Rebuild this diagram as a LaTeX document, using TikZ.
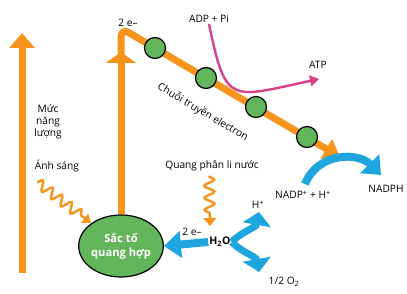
\documentclass[tikz,border=0pt]{standalone}
\usepackage{fontspec}
\setmainfont{Open Sans}
\usepackage{xcolor}
\definecolor{EnergyOrange}{HTML}{F7941E}
\definecolor{WaterBlue}{HTML}{1FA5DE}
\definecolor{LeafGreen}{HTML}{62B55A}
\definecolor{AtpPink}{HTML}{D9418A}
\usepackage{tikz}
\usetikzlibrary{arrows.meta,positioning,shapes.geometric,decorations.pathmorphing}

\begin{document}
\begin{tikzpicture}[x=1pt,y=1pt,lbl/.style={font=\fontsize{10.2}{12}\selectfont,align=center,inner sep=1pt},pig/.style={ellipse,draw=black,line width=1.2pt,fill=LeafGreen,minimum width=84pt,minimum height=62pt,inner sep=0pt,text=white,align=center,font=\fontsize{11.2}{14}\selectfont\bfseries},carrier/.style={circle,draw=black,line width=1.2pt,fill=LeafGreen,minimum size=21pt,inner sep=0pt},flow/.style={draw=EnergyOrange,line width=7pt},water/.style={draw=WaterBlue,line width=8pt},photon/.style={draw=EnergyOrange,line width=2.4pt,decorate,decoration={snake,amplitude=5pt,segment length=12pt,post length=8pt}}]
\useasboundingbox (0,0) rectangle (407,294);
\node[pig] (pig) at (121,48) {Sắc tố\\quang hợp};
\node[lbl,font=\fontsize{10.5}{12}\selectfont\bfseries] (h2o) at (220,52) {H\textsubscript{2}O};
\node[lbl] (level) at (48,172) {Mức\\năng\\lượng};
\node[lbl] (light) at (57,128) {Ánh sáng};
\node[lbl] (split) at (212,128) {Quang phân li nước};
\node[lbl] (etop) at (128,271) {2 e–};
\node[lbl] (ebot) at (192,62) {2 e–};
\node[lbl,rotate=-30.5] (chain) at (203,182) {Chuỗi truyền electron};
\node[lbl] (adp) at (209,275) {ADP + Pi};
\node[lbl] (atp) at (318,229) {ATP};
\node[lbl] (nadp) at (303,99) {NADP\textsuperscript{+} + H\textsuperscript{+}};
\node[lbl] (nadph) at (386,105) {NADPH};
\node[lbl] (hplus) at (258,89) {H\textsuperscript{+}};
\node[lbl] (oxy) at (284,12) {1/2 O\textsubscript{2}};
\coordinate (lvlbot) at (22,21);\coordinate (lvltop) at (22,261);
\coordinate (midtip) at (121,242);\coordinate (midbase) at (121,230);
\coordinate (top) at (121,266);\coordinate (chainend) at (340,137);
\coordinate (atptip) at (319,215);
\coordinate (nadpin) at (305,110);\coordinate (nadpout) at (381,119);
\coordinate (hup) at (259,82);\coordinate (odown) at (259,22);
\coordinate (sun) at (37,112);\coordinate (sunhit) at (91,71);
\coordinate (split0) at (209,118);\coordinate (splithit) at (210,68);
\draw[flow,-{Triangle[width=25pt,length=15pt]}] (lvlbot)--(lvltop);
\draw[flow,-{Triangle[width=30pt,length=11pt]}] (pig.north)--(midtip);
\draw[flow,rounded corners=9pt,-{Triangle[width=22pt,length=16pt]}] (midbase)--(top)--(chainend);
\node[carrier] (c1) at (155,246) {};
\node[carrier] (c2) at (206,216) {};
\node[carrier] (c3) at (256,187) {};
\node[carrier] (c4) at (307,157) {};
\draw[draw=AtpPink,line width=2.4pt,-{Triangle[width=11pt,length=9pt]}] (adp.south) .. controls (226,188) and (230,196) .. (atptip);
\draw[water,-{Triangle[width=26pt,length=16pt]}] (nadpin) .. controls (318,142) and (358,142) .. (nadpout);
\draw[water,-{Triangle[width=26pt,length=17pt]}] (h2o.west)--(pig.east);
\draw[water,line width=7pt,-{Triangle[width=28pt,length=13pt]}] (h2o.east) to[out=45,in=-100] (hup);
\draw[water,line width=7pt,-{Triangle[width=28pt,length=13pt]}] (h2o.east) to[out=-45,in=100] (odown);
\draw[photon,-{Triangle[width=11pt,length=8pt]}] (sun)--(sunhit);
\draw[photon,-{Triangle[width=13pt,length=8pt]}] (split0)--(splithit);
\end{tikzpicture}
\end{document}
